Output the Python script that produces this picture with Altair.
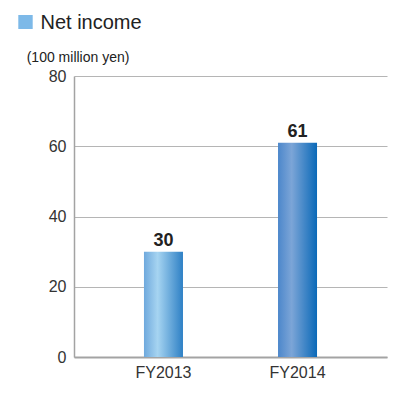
import altair as alt
import pandas as pd

YEARS = ["FY2013", "FY2014"]
NET_INCOME = [30, 61]
Y_TICKS = [0, 20, 40, 60, 80]
TITLE = ["Net income"]
UNIT = ["(100 million yen)"]

FONT = "Liberation Sans"

df = pd.DataFrame({"year": YEARS, "value": NET_INCOME})
title_df = pd.DataFrame({"t": TITLE})
unit_df = pd.DataFrame({"t": UNIT})

x_enc = alt.X(
    "year:N",
    sort=YEARS,
    scale=alt.Scale(domain=YEARS, paddingInner=0.709, paddingOuter=0.522),
    axis=alt.Axis(
        title=None, labelAngle=0, ticks=False, labelPadding=7,
        labelFontSize=16, labelColor="#333333", labelFont=FONT,
        domainColor="#a3a3a3", domainWidth=2, grid=False,
    ),
)
y_enc = alt.Y(
    "value:Q",
    scale=alt.Scale(domain=[0, 80], nice=False),
    axis=alt.Axis(
        title=None, values=Y_TICKS, ticks=False, labelPadding=8,
        labelFontSize=16, labelColor="#333333", labelFont=FONT,
        domainColor="#a3a3a3", domainWidth=1.5,
        grid=True, gridColor="#b5b5b5", gridWidth=1.2,
    ),
)

grad1 = alt.Gradient(
    gradient="linear", x1=0, x2=1, y1=0, y2=0,
    stops=[
        alt.GradientStop(color="#6fa9dd", offset=0),
        alt.GradientStop(color="#a6d4f1", offset=0.35),
        alt.GradientStop(color="#2e80c5", offset=1),
    ],
)
grad2 = alt.Gradient(
    gradient="linear", x1=0, x2=1, y1=0, y2=0,
    stops=[
        alt.GradientStop(color="#4c87cb", offset=0),
        alt.GradientStop(color="#7ca5d7", offset=0.35),
        alt.GradientStop(color="#0a69b8", offset=1),
    ],
)

base = alt.Chart(df).encode(x=x_enc, y=y_enc)

bar1 = base.transform_filter(alt.datum.year == YEARS[0]).mark_bar(color=grad1)
bar2 = base.transform_filter(alt.datum.year == YEARS[1]).mark_bar(color=grad2)

labels = base.mark_text(
    baseline="alphabetic", dy=-5.5, fontSize=18, fontWeight="bold",
    color="#222222", font=FONT,
).encode(text="value:Q")

square = alt.Chart(title_df).mark_rect(color="#7db9e8").encode(
    x=alt.value(-55.7), x2=alt.value(-41.3), y=alt.value(-61), y2=alt.value(-47)
)
title = alt.Chart(title_df).mark_text(
    align="left", baseline="alphabetic", fontSize=20, color="#222222", font=FONT
).encode(text="t:N", x=alt.value(-33.5), y=alt.value(-47))
unit = alt.Chart(unit_df).mark_text(
    align="left", baseline="alphabetic", fontSize=14, color="#222222", font=FONT
).encode(text="t:N", x=alt.value(-47.3), y=alt.value(-14.5))

chart = (
    alt.layer(bar1, bar2, labels, square, title, unit)
    .properties(
        width=313, height=281,
        autosize=alt.AutoSizeParams(type="none"),
        padding={"left": 66, "top": 68, "right": 11, "bottom": 35},
        background="white",
    )
    .configure_view(stroke=None)
)

chart.save("out.html", embed_options={"renderer": "svg", "actions": False})
